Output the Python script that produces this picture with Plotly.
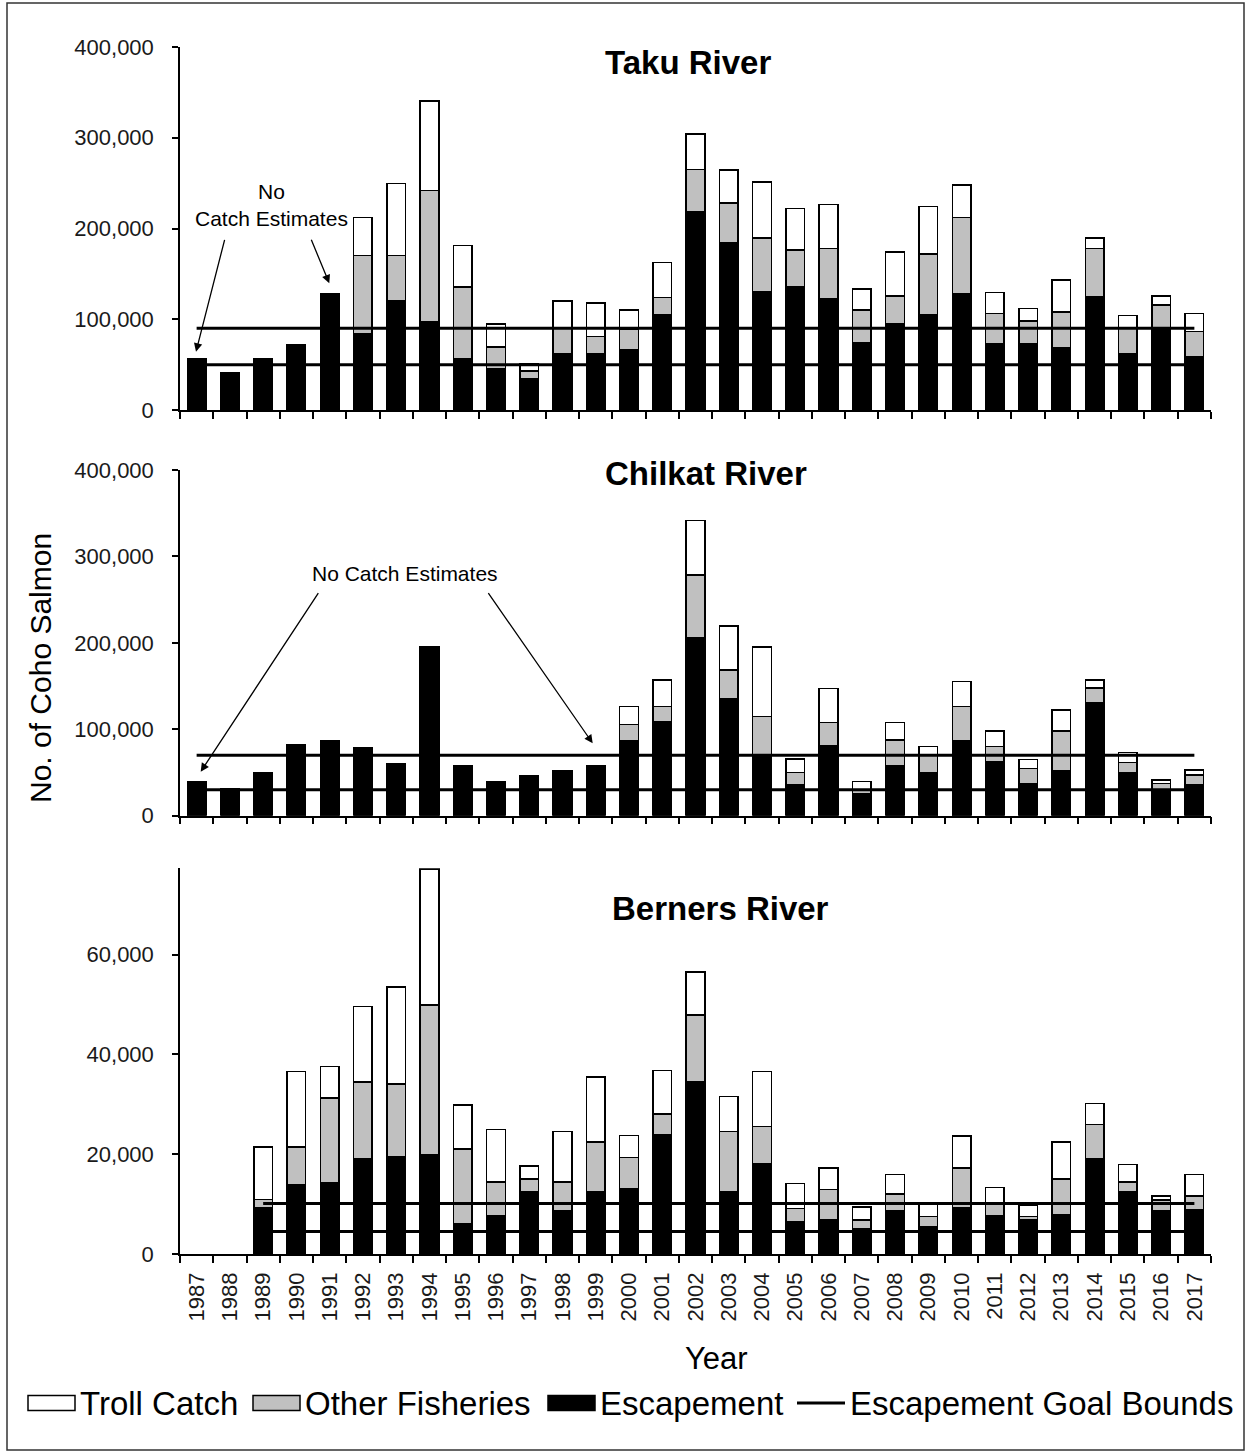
import plotly.graph_objects as go

# ---------------- data ----------------
years = ["1987", "1988", "1989", "1990", "1991", "1992", "1993", "1994", "1995", "1996",
         "1997", "1998", "1999", "2000", "2001", "2002", "2003", "2004", "2005", "2006",
         "2007", "2008", "2009", "2010", "2011", "2012", "2013", "2014", "2015", "2016", "2017"]

taku_escapement = [56000, 41000, 56000, 72000, 128000, 84500, 120000, 97000, 56000, 45000,
                   34000, 62500, 62500, 66000, 105000, 219000, 184500, 130500, 136000, 122500,
                   74000, 95000, 105000, 128500, 72500, 72500, 68500, 125000, 61500, 89000, 59000]
taku_other = [None, None, None, None, None, 85600, 50100, 144800, 79600, 24500,
              9000, 27200, 18300, 23500, 18900, 46000, 43700, 58800, 40400, 55400,
              36300, 30700, 67000, 83900, 34100, 25600, 39500, 52900, 28500, 26800, 27300]
taku_troll = [None, None, None, None, None, 42300, 79500, 98900, 45900, 25300,
              8400, 30500, 37200, 20800, 38500, 39000, 36400, 62100, 45600, 48500,
              23100, 48500, 52200, 35300, 22700, 14000, 35300, 11400, 14400, 9900, 19900]
taku_goal = [50000, 90000]

chilkat_escapement = [39800, 31700, 50200, 82600, 86500, 78400, 60200, 195600, 57900, 39800,
                      45900, 51700, 57900, 86500, 108800, 206000, 135900, 70000, 35500, 80700,
                      25900, 57900, 50200, 86500, 62200, 37500, 51700, 131200, 50200, 29700, 35500]
chilkat_other = [None, None, None, None, None, None, None, None, None, None,
                 None, None, None, 19300, 17400, 72600, 32700, 44600, 14300, 26900,
                 3800, 29700, 19200, 39700, 17700, 17400, 46300, 16300, 11100, 7800, 11600]
chilkat_troll = [None, None, None, None, None, None, None, None, None, None,
                 None, None, None, 20400, 30900, 62800, 51000, 80700, 15800, 39400,
                 9700, 20500, 10500, 28900, 18100, 10400, 24300, 9600, 12000, 3800, 5800]
chilkat_goal = [30000, 70000]

berners_escapement = [None, None, 9270, 13800, 14270, 19130, 19470, 19800, 6130, 7600,
                      12470, 8670, 12470, 13130, 24000, 34600, 12470, 18130, 6470, 6930,
                      5070, 8670, 5470, 9330, 7600, 6800, 7930, 19130, 12470, 8670, 8930]
berners_other = [None, None, 1660, 7670, 17000, 15340, 14600, 30070, 14870, 6800,
                 2530, 5730, 9930, 6200, 4070, 13270, 12130, 7470, 2660, 6000,
                 1730, 3330, 2000, 7940, 2400, 670, 7070, 6870, 1930, 2130, 2670]
berners_troll = [None, None, 10540, 15130, 6330, 15130, 19400, 27330, 8870, 10600,
                 2600, 10200, 13070, 4470, 8730, 8600, 7000, 11000, 5000, 4340,
                 2670, 3930, 2860, 6330, 3330, 2330, 7470, 4130, 3530, 800, 4330]
berners_goal = [4500, 10100]
berners_goal_start = "1989"

panel_titles = ["Taku River", "Chilkat River", "Berners River"]
legend_labels = ["Troll Catch", "Other Fisheries", "Escapement", "Escapement Goal Bounds"]

# ---------------- geometry helpers (pixels -> paper) ----------------
W_PX, H_PX = 1247, 1453
L, R, T, B = 180, 1211, 47, 1254
PW, PH = R - L, B - T


def px(x):
    return (x - L) / PW


def py(y):
    return (B - y) / PH


FONT = "Liberation Sans, Arial, sans-serif"
fig = go.Figure()

panels = [
    (taku_escapement, taku_other, taku_troll, taku_goal, years[0], "x", "y"),
    (chilkat_escapement, chilkat_other, chilkat_troll, chilkat_goal, years[0], "x2", "y2"),
    (berners_escapement, berners_other, berners_troll, berners_goal, berners_goal_start, "x3", "y3"),
]

for esc, oth, trl, goal, gstart, xa, ya in panels:
    for vals, color in ((esc, "#000000"), (oth, "#C0C0C0"), (trl, "#FFFFFF")):
        fig.add_trace(go.Bar(x=years, y=vals, xaxis=xa, yaxis=ya, width=0.56,
                             marker=dict(color=color, line=dict(color="#000000", width=1.5)),
                             showlegend=False, hoverinfo="x+y"))
    for g in goal:
        fig.add_trace(go.Scatter(x=[gstart, years[-1]], y=[g, g], xaxis=xa, yaxis=ya,
                                 mode="lines", line=dict(color="#000000", width=3),
                                 showlegend=False, hoverinfo="y"))

xcommon = dict(type="category", range=[-0.5, 30.5], showline=True, linecolor="#000000",
               linewidth=1.5, ticks="outside", ticklen=7, tickcolor="#000000", tickwidth=1.5,
               tickson="boundaries", showgrid=False, zeroline=False, fixedrange=True)
ycommon = dict(showline=True, linecolor="#000000", linewidth=1.5, ticks="outside", ticklen=6,
               tickcolor="#000000", tickwidth=1.5, showgrid=False, zeroline=False,
               tickformat=",d", tickfont=dict(family=FONT, size=22, color="#1a1a1a"),
               ticklabelstandoff=14)

fig.update_layout(
    width=W_PX, height=H_PX,
    margin=dict(l=L, r=W_PX - R, t=T, b=H_PX - B, pad=0),
    paper_bgcolor="#FFFFFF", plot_bgcolor="#FFFFFF",
    barmode="stack", bargap=0.44, showlegend=False,
    xaxis=dict(xcommon, domain=[0, 1], anchor="y", showticklabels=False),
    xaxis2=dict(xcommon, domain=[0, 1], anchor="y2", showticklabels=False),
    xaxis3=dict(xcommon, domain=[0, 1], anchor="y3", showticklabels=True, tickangle=-90,
                tickfont=dict(family=FONT, size=22, color="#1a1a1a"), ticklabelstandoff=8),
    yaxis=dict(ycommon, domain=[py(410), py(47)], anchor="x", range=[0, 400000],
               tickvals=[0, 100000, 200000, 300000, 400000]),
    yaxis2=dict(ycommon, domain=[py(815.7), py(470)], anchor="x2", range=[0, 400000],
                tickvals=[0, 100000, 200000, 300000, 400000]),
    yaxis3=dict(ycommon, domain=[0, py(868.3)], anchor="x3", range=[0, 77300],
                tickvals=[0, 20000, 40000, 60000]),
)

ann = []
shapes = []

# panel titles
for title, cx, cy in zip(panel_titles, [688, 706, 720], [62, 474, 908]):
    ann.append(dict(text="<b>%s</b>" % title, x=px(cx), y=py(cy), xref="paper", yref="paper",
                    xanchor="center", yanchor="middle", showarrow=False,
                    font=dict(family=FONT, size=33, color="#000000")))

# axis titles
ann.append(dict(text="No. of Coho Salmon", x=px(40), y=py(668), xref="paper", yref="paper",
                textangle=-90, xanchor="center", yanchor="middle", showarrow=False,
                font=dict(family=FONT, size=30, color="#000000")))
ann.append(dict(text="Year", x=px(716), y=py(1358), xref="paper", yref="paper",
                xanchor="center", yanchor="middle", showarrow=False,
                font=dict(family=FONT, size=31, color="#000000")))

# "No Catch Estimates" notes
note_font = dict(family=FONT, size=21, color="#000000")
ann.append(dict(text="No<br>Catch Estimates", x=px(271), y=py(205), xref="paper", yref="paper",
                xanchor="center", yanchor="middle", showarrow=False, font=note_font,
                align="center"))
ann.append(dict(text="No Catch Estimates", x=px(405), y=py(573), xref="paper", yref="paper",
                xanchor="center", yanchor="middle", showarrow=False, font=note_font))

arrows = [((196, 351.7), (225, 238.3)), ((329.3, 283.3), (310.7, 238.3)),
          ((200.7, 771.7), (319.3, 591.7)), ((592.7, 743.3), (487.3, 591.7))]
for (hx, hy), (tx, ty) in arrows:
    ann.append(dict(text="", x=px(hx), y=py(hy), xref="paper", yref="paper",
                    ax=tx - hx, ay=ty - hy, axref="pixel", ayref="pixel",
                    showarrow=True, arrowhead=2, arrowsize=1.3, arrowwidth=1.3,
                    arrowcolor="#000000"))

# legend (drawn manually)
leg_y = 1403
leg_font = dict(family=FONT, size=33, color="#000000")
for (x0, x1), fill, label, tx in zip([(28, 75), (253, 300), (548, 595)],
                                     ["#FFFFFF", "#C0C0C0", "#000000"],
                                     legend_labels[:3], [78, 303, 598]):
    shapes.append(dict(type="rect", xref="paper", yref="paper", x0=px(x0), x1=px(x1),
                       y0=py(leg_y + 7.5), y1=py(leg_y - 7.5), fillcolor=fill,
                       line=dict(color="#000000", width=1.5)))
    ann.append(dict(text=label, x=px(tx), y=py(leg_y), xref="paper", yref="paper",
                    xanchor="left", yanchor="middle", showarrow=False, font=leg_font))
shapes.append(dict(type="line", xref="paper", yref="paper", x0=px(797), x1=px(845),
                   y0=py(leg_y), y1=py(leg_y), line=dict(color="#000000", width=3)))
ann.append(dict(text=legend_labels[3], x=px(848), y=py(leg_y), xref="paper", yref="paper",
                xanchor="left", yanchor="middle", showarrow=False, font=leg_font))

# outer border
shapes.append(dict(type="rect", xref="paper", yref="paper", x0=px(7), x1=px(1244),
                   y0=py(1450), y1=py(3), line=dict(color="#333333", width=1.5),
                   fillcolor="rgba(0,0,0,0)", layer="below"))

fig.update_layout(annotations=ann, shapes=shapes)
fig.write_html("out.html")
